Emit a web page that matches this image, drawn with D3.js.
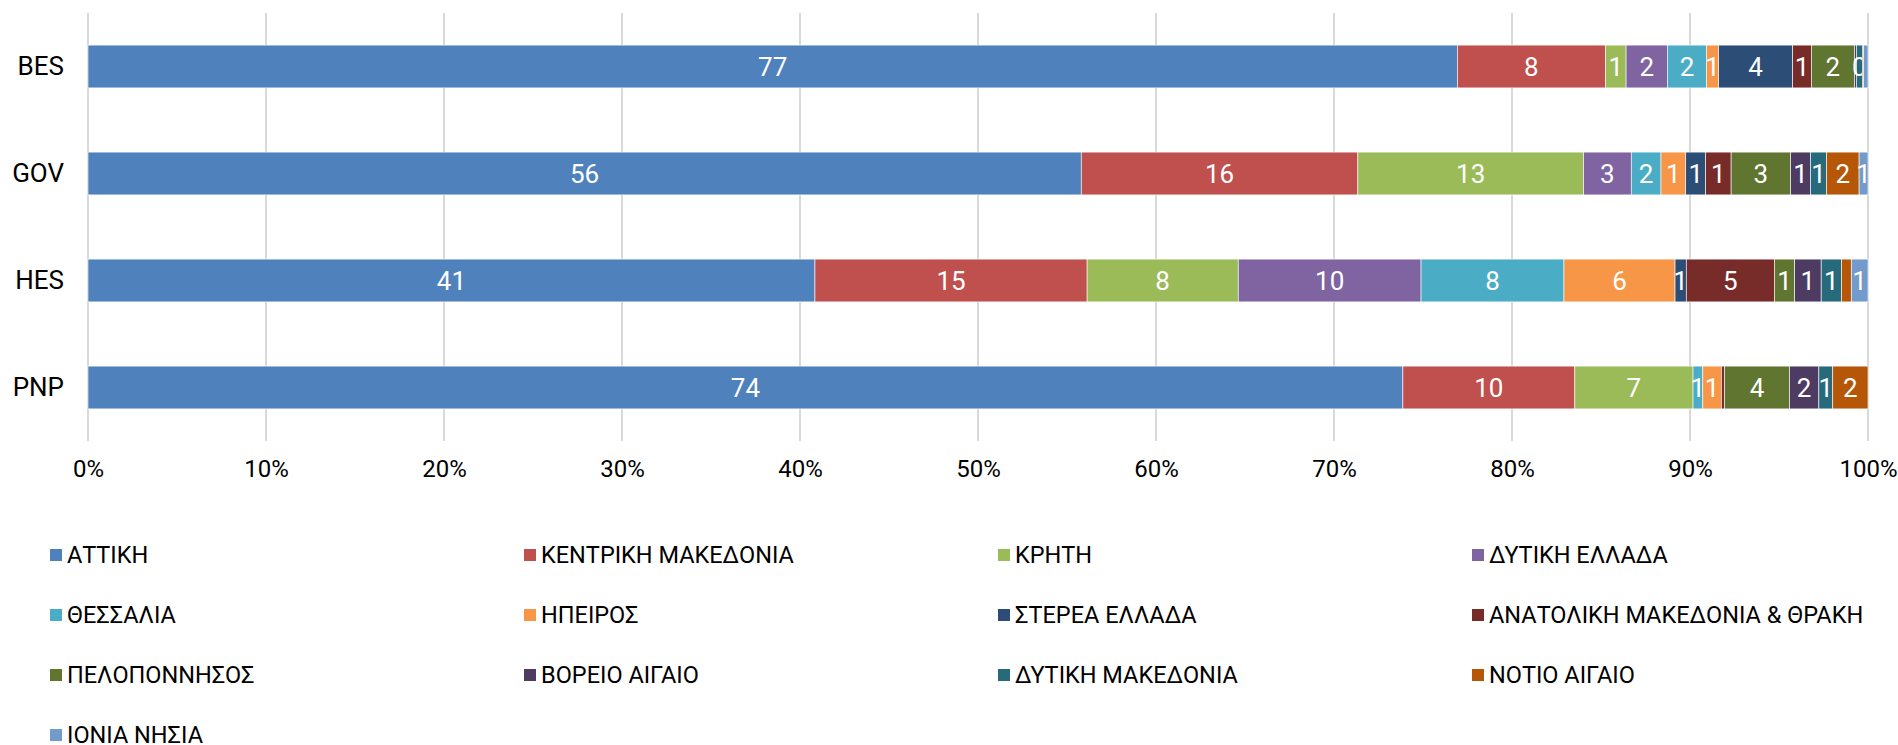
<!DOCTYPE html>
<html>
<head>
<meta charset="utf-8">
<script src="https://cdn.jsdelivr.net/npm/d3@7"></script>
<style>
  html, body { margin: 0; padding: 0; background: #fff; }
  text { font-family: Roboto, "DejaVu Sans", sans-serif; }
</style>
</head>
<body>
<div id="chart"></div>
<script>

const categories = ['BES', 'GOV', 'HES', 'PNP'];

const regions = [
    'ΑΤΤΙΚΗ', 'ΚΕΝΤΡΙΚΗ ΜΑΚΕΔΟΝΙΑ', 'ΚΡΗΤΗ', 'ΔΥΤΙΚΗ ΕΛΛΑΔΑ',
    'ΘΕΣΣΑΛΙΑ', 'ΗΠΕΙΡΟΣ', 'ΣΤΕΡΕΑ ΕΛΛΑΔΑ', 'ΑΝΑΤΟΛΙΚΗ ΜΑΚΕΔΟΝΙΑ & ΘΡΑΚΗ',
    'ΠΕΛΟΠΟΝΝΗΣΟΣ', 'ΒΟΡΕΙΟ ΑΙΓΑΙΟ', 'ΔΥΤΙΚΗ ΜΑΚΕΔΟΝΙΑ', 'ΝΟΤΙΟ ΑΙΓΑΙΟ',
    'ΙΟΝΙΑ ΝΗΣΙΑ'
];

const regionColors = [
    '#4F81BD', '#C0504D', '#9BBB59', '#8064A2',
    '#4BACC6', '#F79646', '#2C4D75', '#772C2A',
    '#5F7530', '#4D3B62', '#276A7C', '#B65708',
    '#729ACA'
];

// shares (%) per category, in the order of `regions`
const besValues = [76.93, 8.32, 1.16, 2.32, 2.20, 0.68, 4.16, 1.05, 2.42, 0.11, 0.33, 0.07, 0.25];
const govValues = [55.80, 15.54, 12.68, 2.68, 1.67, 1.39, 1.12, 1.43, 3.34, 1.12, 0.90, 1.83, 0.50];
const hesValues = [40.84, 15.29, 8.49, 10.27, 8.03, 6.24, 0.63, 4.95, 1.14, 1.49, 1.14, 0.55, 0.94];
const pnpValues = [73.87, 9.66, 6.64, 0, 0.55, 1.04, 0, 0.18, 3.65, 1.65, 0.78, 1.98, 0];

const xTicks = [0, 10, 20, 30, 40, 50, 60, 70, 80, 90, 100];

// labels that the original chart leaves out
const hiddenLabels = [['HES', 'ΝΟΤΙΟ ΑΙΓΑΙΟ']];

const svgWidth = 1898;
const svgHeight = 745;

const rows = [besValues, govValues, hesValues, pnpValues].map((vals, i) => {
    const row = { category: categories[i] };
    regions.forEach((r, j) => row[r] = vals[j]);
    return row;
});

const svg = d3.select('#chart')
    .append('svg')
    .attr('width', svgWidth)
    .attr('height', svgHeight);

const xScale = d3.scaleLinear()
    .domain([0, 100])
    .range([88, 1868]);

const yScale = d3.scaleBand()
    .domain(categories)
    .range([13, 441])
    .paddingInner(0.6)
    .paddingOuter(0.3);

const colorScale = d3.scaleOrdinal()
    .domain(regions)
    .range(regionColors);

// gridlines
svg.append('g')
    .selectAll('line')
    .data(xTicks)
    .join('line')
    .attr('x1', d => xScale(d))
    .attr('x2', d => xScale(d))
    .attr('y1', 13)
    .attr('y2', 441)
    .attr('stroke', '#d9d9d9')
    .attr('stroke-width', 2);

// x axis labels
const xAxisGroup = svg.append('g')
    .attr('transform', 'translate(0, 441)')
    .call(d3.axisBottom(xScale)
        .tickValues(xTicks)
        .tickSize(0)
        .tickPadding(19)
        .tickFormat(d => d + '%'));
xAxisGroup.select('.domain').remove();
xAxisGroup.selectAll('text')
    .attr('font-size', 24)
    .attr('font-family', 'Roboto')
    .attr('fill', '#000');

// y axis labels
const yAxisGroup = svg.append('g')
    .attr('transform', 'translate(88, 0)')
    .call(d3.axisLeft(yScale)
        .tickSize(0)
        .tickPadding(24));
yAxisGroup.select('.domain').remove();
yAxisGroup.selectAll('text')
    .attr('font-size', 26)
    .attr('font-family', 'Roboto')
    .attr('fill', '#000');

const series = d3.stack().keys(regions)(rows);

const layers = svg.append('g')
    .selectAll('g')
    .data(series)
    .join('g')
    .attr('fill', d => colorScale(d.key));

layers.selectAll('rect')
    .data(d => d)
    .join('rect')
    .attr('x', d => xScale(d[0]))
    .attr('y', d => yScale(d.data.category))
    .attr('width', d => xScale(d[1]) - xScale(d[0]))
    .attr('height', yScale.bandwidth())
    .attr('stroke', '#fff')
    .attr('stroke-width', 0.6);

const isHidden = (cat, key) => hiddenLabels.some(h => h[0] === cat && h[1] === key);

layers.selectAll('text')
    .data(s => s.map(d => ({ d, key: s.key })))
    .join('text')
    .filter(({ d, key }) => xScale(d[1]) - xScale(d[0]) >= 5 && !isHidden(d.data.category, key))
    .attr('x', ({ d }) => (xScale(d[0]) + xScale(d[1])) / 2)
    .attr('y', ({ d }) => yScale(d.data.category) + yScale.bandwidth() / 2)
    .attr('dy', '0.36em')
    .attr('text-anchor', 'middle')
    .attr('font-size', 26)
    .attr('fill', '#fff')
    .text(({ d }) => Math.round(d[1] - d[0]));

// legend
const legend = svg.append('g')
    .selectAll('g')
    .data(regions)
    .join('g')
    .attr('transform', (d, i) => `translate(${50 + (i % 4) * 474}, ${555 + Math.floor(i / 4) * 60})`);

legend.append('rect')
    .attr('x', 0)
    .attr('y', -6)
    .attr('width', 12)
    .attr('height', 12)
    .attr('fill', d => colorScale(d));

legend.append('text')
    .attr('x', 17)
    .attr('dy', '0.36em')
    .attr('font-size', 23.5)
    .attr('fill', '#000')
    .text(d => d);

</script>
</body>
</html>
